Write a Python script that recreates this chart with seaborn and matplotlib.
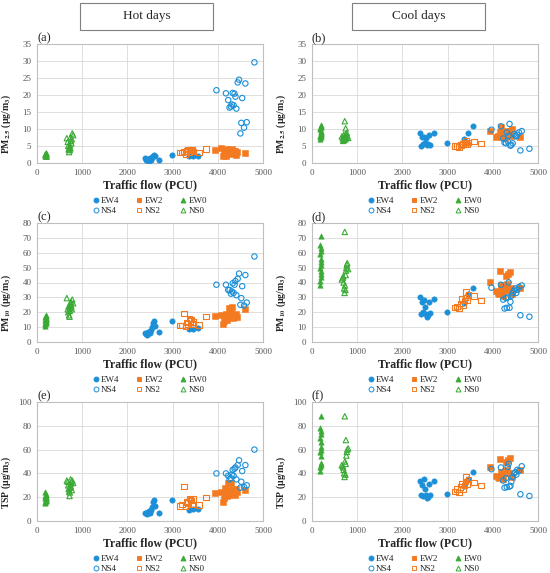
import numpy as np
import pandas as pd
import matplotlib
matplotlib.use("Agg")
import matplotlib.pyplot as plt
import seaborn as sns
from matplotlib.patches import Rectangle
from matplotlib.lines import Line2D

sns.set_style("white")
plt.rcParams['font.family'] = ['Liberation Serif', 'DejaVu Serif']
plt.rcParams['mathtext.fontset'] = 'stix'
plt.rcParams['mathtext.default'] = 'bf'

# ---- traffic flow (PCU) per site ----
x_ew4 = [2400, 2420, 2440, 2460, 2480, 2500, 2520, 2540, 2560, 2580, 2600, 2700, 2990, 3360, 3460, 3560]
x_ns4 = [3970, 4180, 4230, 4260, 4290, 4310, 4330, 4350, 4370, 4390, 4410, 4440, 4470, 4500, 4520, 4540, 4580, 4610, 4640, 4810]
x_ew2 = [3940, 4080, 4110, 4140, 4170, 4190, 4210, 4230, 4250, 4270, 4290, 4310, 4330, 4350, 4380, 4400, 4420, 4600]
x_ns2 = [3160, 3210, 3250, 3280, 3310, 3340, 3370, 3390, 3410, 3440, 3460, 3580, 3740]
x_ew0 = [180, 185, 190, 195, 200, 185, 190, 195, 200, 180, 190, 200, 185, 195]
x_ns0 = [660, 680, 690, 700, 710, 720, 725, 730, 740, 745, 750, 760, 770, 780, 800]

# ---- concentrations, one list per panel and site ----
# (a) PM2.5 hot
a_ew4 = [1.5, 1.0, 0.8, 1.2, 0.6, 1.4, 0.9, 1.8, 2.2, 2.4, 2.0, 1.0, 2.3, 2.0, 2.0, 2.0]
a_ns4 = [21.4, 20.5, 18.5, 16.3, 16.6, 17.2, 20.6, 17.0, 20.4, 19.5, 16.0, 23.7, 24.5, 8.7, 11.8, 19.1, 10.4, 23.4, 12.0, 29.6]
a_ew2 = [3.8, 4.3, 2.0, 2.5, 3.5, 2.2, 4.0, 3.0, 3.8, 2.6, 3.3, 4.0, 2.8, 3.4, 3.6, 2.3, 3.2, 2.9]
a_ns2 = [3.0, 3.1, 3.4, 2.7, 3.5, 3.9, 3.2, 4.0, 3.6, 3.8, 3.3, 3.0, 4.1]
a_ew0 = [2.0, 2.3, 2.6, 2.9, 2.1, 2.5, 2.8, 2.2, 2.4, 2.7, 3.0, 2.3, 2.6, 2.1]
a_ns0 = [7.3, 6.2, 5.0, 4.0, 3.2, 4.5, 3.8, 5.2, 4.3, 7.6, 6.5, 5.8, 7.0, 8.7, 8.2]
# (b) PM2.5 cool
b_ew4 = [8.7, 5.1, 7.7, 5.7, 7.5, 6.0, 7.3, 5.2, 5.5, 8.2, 5.3, 8.8, 5.8, 7.1, 8.9, 11.0]
b_ns4 = [9.8, 10.8, 7.2, 6.0, 5.8, 9.0, 6.4, 8.0, 11.5, 5.1, 5.3, 5.8, 8.5, 8.0, 7.8, 8.3, 9.0, 3.7, 9.4, 4.2]
b_ew2 = [9.3, 7.7, 7.8, 8.0, 9.0, 10.5, 7.5, 8.5, 9.0, 7.3, 8.0, 9.5, 8.2, 8.8, 9.4, 8.0, 10.0, 7.5]
b_ns2 = [5.0, 5.0, 4.7, 5.5, 5.3, 5.8, 6.0, 5.6, 6.5, 5.5, 6.0, 6.3, 5.8]
b_ew0 = [7.2, 7.8, 8.3, 8.8, 9.3, 10.0, 10.6, 11.2, 7.5, 8.0, 8.5, 9.0, 10.3, 10.9]
b_ns0 = [7.8, 7.2, 6.5, 8.2, 6.8, 7.5, 12.3, 8.0, 7.0, 10.2, 8.5, 7.6, 8.8, 8.0, 7.4]
# (c) PM10 hot
c_ew4 = [6.0, 5.5, 5.0, 6.5, 7.0, 6.0, 8.0, 10.0, 13.0, 14.0, 11.0, 6.5, 13.8, 9.0, 9.0, 9.5]
c_ns4 = [38.5, 38.5, 35.0, 35.0, 32.5, 34.0, 39.5, 33.0, 38.5, 41.0, 31.5, 42.5, 46.0, 25.0, 29.5, 37.5, 24.5, 45.0, 26.5, 57.5]
c_ew2 = [17.5, 18.0, 12.0, 14.0, 16.0, 19.0, 15.0, 18.0, 23.0, 17.0, 20.0, 23.5, 16.0, 18.0, 17.0, 19.0, 16.5, 22.5]
c_ns2 = [11.0, 11.0, 19.0, 10.5, 13.0, 12.0, 16.0, 14.0, 15.0, 12.0, 13.5, 11.5, 17.0]
c_ew0 = [11.0, 12.0, 12.8, 13.5, 14.0, 14.6, 15.2, 15.8, 16.4, 17.0, 17.6, 18.3, 13.0, 15.0]
c_ns0 = [29.5, 22.0, 20.0, 24.0, 18.0, 17.0, 21.0, 23.0, 25.0, 26.0, 27.0, 24.0, 22.0, 28.5, 26.0]
# (d) PM10 cool
d_ew4 = [30.5, 19.0, 27.0, 20.0, 28.0, 23.5, 19.0, 17.0, 18.0, 27.0, 19.5, 29.0, 20.5, 26.0, 32.0, 36.5]
d_ns4 = [36.5, 38.5, 28.5, 22.5, 29.5, 23.0, 30.0, 40.0, 23.0, 27.0, 31.0, 33.0, 34.5, 36.0, 33.0, 35.0, 37.0, 18.0, 38.0, 17.0]
d_ew2 = [40.5, 34.0, 33.0, 32.0, 47.5, 38.0, 34.0, 31.0, 35.0, 37.0, 44.5, 39.0, 46.0, 35.0, 47.0, 36.0, 32.0, 36.5]
d_ns2 = [23.0, 24.0, 22.5, 26.0, 29.0, 25.0, 28.0, 30.0, 33.5, 28.0, 32.0, 31.0, 28.0]
d_ew0 = [38.0, 41.0, 44.0, 46.0, 48.0, 50.0, 52.0, 54.0, 56.0, 59.0, 61.0, 63.0, 65.0, 71.0]
d_ns0 = [42.0, 43.0, 44.0, 40.0, 36.0, 33.0, 74.0, 38.0, 35.0, 45.0, 48.0, 50.0, 52.0, 53.0, 49.0]
# (e) TSP hot
e_ew4 = [7.0, 6.5, 6.0, 7.5, 8.0, 7.0, 9.0, 12.0, 16.0, 18.0, 13.0, 7.0, 18.0, 9.5, 10.0, 10.5]
e_ns4 = [40.0, 40.0, 38.0, 35.0, 36.0, 39.0, 43.0, 38.0, 44.0, 45.0, 35.0, 47.0, 51.0, 28.0, 33.0, 42.0, 28.5, 47.0, 30.0, 60.0]
e_ew2 = [23.5, 24.0, 16.0, 19.0, 28.0, 25.0, 21.0, 32.0, 22.0, 26.0, 32.0, 24.0, 27.0, 25.0, 22.0, 27.0, 24.0, 26.0]
e_ns2 = [12.5, 14.0, 29.0, 12.0, 16.0, 15.0, 19.0, 18.0, 17.0, 14.0, 18.5, 13.5, 20.0]
e_ew0 = [15.0, 16.0, 17.0, 18.0, 18.5, 19.0, 19.5, 20.0, 20.5, 21.0, 22.0, 23.0, 24.0, 17.5]
e_ns0 = [34.0, 33.0, 30.0, 27.0, 25.0, 21.0, 24.0, 28.0, 31.0, 35.0, 29.0, 33.0, 26.0, 34.0, 32.0]
# (f) TSP cool
f_ew4 = [34.0, 22.0, 30.5, 21.0, 35.5, 26.5, 22.0, 19.0, 20.0, 31.0, 21.5, 34.0, 23.0, 29.0, 35.5, 41.0]
f_ns4 = [43.5, 45.0, 34.0, 28.0, 36.0, 28.5, 45.5, 48.0, 29.0, 29.5, 33.0, 37.0, 40.0, 41.0, 39.0, 43.0, 42.0, 22.5, 46.0, 21.0]
f_ew2 = [45.0, 38.0, 37.0, 36.0, 52.0, 41.0, 39.0, 35.0, 40.0, 42.0, 50.0, 43.0, 51.0, 40.0, 53.0, 38.0, 37.0, 43.0]
f_ns2 = [25.0, 27.0, 24.0, 28.5, 31.0, 27.0, 30.0, 33.0, 37.0, 31.0, 35.0, 32.5, 30.0]
f_ew0 = [42.0, 45.0, 47.0, 49.0, 55.0, 58.0, 60.0, 62.0, 66.0, 70.0, 73.0, 76.0, 78.0, 88.0]
f_ns0 = [47.0, 46.0, 45.0, 43.0, 40.0, 37.0, 88.0, 50.0, 39.0, 48.0, 68.0, 55.0, 58.0, 60.0, 61.0]

sites = ['EW4', 'EW2', 'EW0', 'NS4', 'NS2', 'NS0']
x_by_site = {'EW4': x_ew4, 'EW2': x_ew2, 'EW0': x_ew0, 'NS4': x_ns4, 'NS2': x_ns2, 'NS0': x_ns0}
panels = {
    'a': {'EW4': a_ew4, 'EW2': a_ew2, 'EW0': a_ew0, 'NS4': a_ns4, 'NS2': a_ns2, 'NS0': a_ns0},
    'b': {'EW4': b_ew4, 'EW2': b_ew2, 'EW0': b_ew0, 'NS4': b_ns4, 'NS2': b_ns2, 'NS0': b_ns0},
    'c': {'EW4': c_ew4, 'EW2': c_ew2, 'EW0': c_ew0, 'NS4': c_ns4, 'NS2': c_ns2, 'NS0': c_ns0},
    'd': {'EW4': d_ew4, 'EW2': d_ew2, 'EW0': d_ew0, 'NS4': d_ns4, 'NS2': d_ns2, 'NS0': d_ns0},
    'e': {'EW4': e_ew4, 'EW2': e_ew2, 'EW0': e_ew0, 'NS4': e_ns4, 'NS2': e_ns2, 'NS0': e_ns0},
    'f': {'EW4': f_ew4, 'EW2': f_ew2, 'EW0': f_ew0, 'NS4': f_ns4, 'NS2': f_ns2, 'NS0': f_ns0},
}

blue, orange, green = '#1B8FD8', '#F47A22', '#3AAA35'
site_color = {'EW4': blue, 'NS4': blue, 'EW2': orange, 'NS2': orange, 'EW0': green, 'NS0': green}
site_marker = {'EW4': 'o', 'NS4': 'o', 'EW2': 's', 'NS2': 's', 'EW0': '^', 'NS0': '^'}
site_filled = {'EW4': True, 'EW2': True, 'EW0': True, 'NS4': False, 'NS2': False, 'NS0': False}

ylabels = {
    'a': 'PM$_{2.5}$ (μg/m$_{3}$)', 'b': 'PM$_{2.5}$ (μg/m$_{3}$)',
    'c': 'PM$_{10}$ (μg/m$_{3}$)', 'd': 'PM$_{10}$ (μg/m$_{3}$)',
    'e': 'TSP (μg/m$_{3}$)', 'f': 'TSP (μg/m$_{3}$)',
}
ylims = {'a': (35, 5), 'b': (35, 5), 'c': (80, 10), 'd': (80, 10), 'e': (100, 20), 'f': (100, 20)}

fig = plt.figure(figsize=(5.5, 5.73), dpi=100)

lefts = [37 / 550, 312 / 550]
w = 226 / 550
bottoms = [1 - 163 / 573, 1 - 342 / 573, 1 - 521 / 573]
h = 119 / 573

grid_c = '#D9D9D9'
tick_c = '#595959'

for i, key in enumerate(['a', 'b', 'c', 'd', 'e', 'f']):
    row, col = i // 2, i % 2
    ax = fig.add_axes([lefts[col], bottoms[row], w, h])
    for s in sites:
        df = pd.DataFrame({'x': x_by_site[s], 'y': panels[key][s]})
        c = site_color[s]
        if site_filled[s]:
            sns.scatterplot(data=df, x='x', y='y', ax=ax, color=c, marker=site_marker[s],
                            s=15, edgecolor=c, linewidth=0.4, zorder=3)
        else:
            sns.scatterplot(data=df, x='x', y='y', ax=ax, marker=site_marker[s],
                            s=15, facecolor='none', edgecolor=c, linewidth=0.8, zorder=3)
    ymax, ystep = ylims[key]
    ax.set_xlim(0, 5000)
    ax.set_ylim(0, ymax)
    ax.set_xticks(np.arange(0, 5001, 1000))
    ax.set_yticks(np.arange(0, ymax + 0.1, ystep))
    ax.grid(True, color=grid_c, linewidth=0.6)
    ax.set_axisbelow(True)
    for sp in ax.spines.values():
        sp.set_color('#BFBFBF')
        sp.set_linewidth(0.8)
    ax.tick_params(length=0, labelsize=6.5, labelcolor=tick_c, pad=4)
    ax.set_xlabel('Traffic flow (PCU)', fontsize=8.5, fontweight='bold', labelpad=2)
    ax.set_ylabel(ylabels[key], fontsize=7, fontweight='bold')
    ax.yaxis.set_label_coords(-0.105, 0.33)
    ax.text(0.0, 1.0, f'({key})', transform=ax.transAxes, fontsize=9,
            ha='left', va='bottom')

    handles = []
    for s in ['EW4', 'NS4', 'EW2', 'NS2', 'EW0', 'NS0']:
        c = site_color[s]
        handles.append(Line2D([], [], linestyle='none', marker=site_marker[s], markersize=3.5,
                              markerfacecolor=c if site_filled[s] else 'none',
                              markeredgecolor=c, markeredgewidth=0.7, label=s))
    ax.legend(handles=handles, ncol=3, loc='upper center', bbox_to_anchor=(0.5, -0.245),
              frameon=False, fontsize=6.5, handlelength=0.6, handletextpad=0.3,
              columnspacing=1.9, labelspacing=0.2, borderpad=0)

# column headers
for xl, txt in [(80, 'Hot days'), (352, 'Cool days')]:
    fig.patches.append(Rectangle((xl / 550, 1 - 30 / 573), 133 / 550, 27 / 573,
                                 transform=fig.transFigure, fill=False,
                                 edgecolor='#7F7F7F', linewidth=0.8))
    fig.text((xl + 66.5) / 550, 1 - 16.5 / 573, txt, ha='center', va='center', fontsize=9.5)

fig.savefig('out.png', dpi=100)
